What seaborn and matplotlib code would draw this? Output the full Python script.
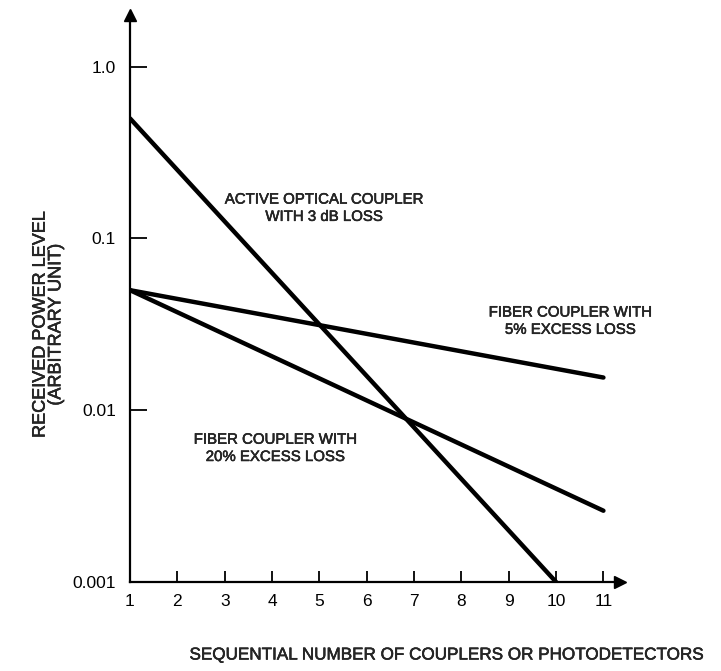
import numpy as np
import pandas as pd
import seaborn as sns
import matplotlib.pyplot as plt
import matplotlib.patheffects as pe

# values
active_x = [1, 10]
active_y = [0.5, 0.001]
fiber5_x = [1, 11]
fiber5_y = [0.05, 0.0155]
fiber20_x = [1, 11]
fiber20_y = [0.05, 0.0026]

x_ticks = [1, 2, 3, 4, 5, 6, 7, 8, 9, 10, 11]
y_ticks = [0.001, 0.01, 0.1, 1.0]
y_tick_labels = ["0.001", "0.01", "0.1", "1.0"]

sns.set_style("white")
plt.rcParams["font.family"] = ["Liberation Sans", "DejaVu Sans"]

# scanned print looks a bit heavier than regular weight
heavy = [pe.withStroke(linewidth=0.35, foreground="black")]

df = pd.concat([
    pd.DataFrame({"n": active_x, "p": active_y, "s": "active"}),
    pd.DataFrame({"n": fiber5_x, "p": fiber5_y, "s": "fiber5"}),
    pd.DataFrame({"n": fiber20_x, "p": fiber20_y, "s": "fiber20"}),
])

fig = plt.figure(figsize=(7.21, 6.71), dpi=100)
ax = fig.add_axes([130 / 721, (671 - 582) / 671, (620 - 130) / 721, (582 - 15) / 671])

sns.lineplot(data=df, x="n", y="p", units="s", estimator=None, color="black",
             linewidth=3.2, ax=ax, legend=False)

ax.set_yscale("log")
ax.set_xlim(1, 11.35)
ax.set_ylim(0.001, 2.0)
ax.set_xticks(x_ticks)
ax.set_xticklabels([str(v) for v in x_ticks])
ax.set_yticks(y_ticks)
ax.set_yticklabels(y_tick_labels)
ax.minorticks_off()
ax.tick_params(axis="both", direction="in", width=1.3, labelsize=12.5,
               color="black", labelcolor="black", bottom=True, left=True)
ax.tick_params(axis="x", length=8, pad=9)
ax.tick_params(axis="y", length=12, pad=10)

for side in ["top", "right"]:
    ax.spines[side].set_visible(False)
for side in ["left", "bottom"]:
    ax.spines[side].set_linewidth(1.6)
    ax.spines[side].set_color("black")

# axis arrows
ax.plot(1, 0, ">", color="black", markersize=9, transform=ax.transAxes, clip_on=False)
ax.plot(0, 1, "^", color="black", markersize=9, transform=ax.transAxes, clip_on=False)

ax.set_xlabel("")
ax.set_ylabel("")
fig.text(447 / 721, 1 - 655 / 671, "SEQUENTIAL NUMBER OF COUPLERS OR PHOTODETECTORS",
         ha="center", va="center", fontsize=12.3, path_effects=heavy)
fig.text(48 / 721, 1 - 325 / 671, "RECEIVED POWER LEVEL\n(ARBITRARY UNIT)",
         ha="center", va="center", rotation=90, fontsize=13, linespacing=0.9,
         path_effects=heavy)

ax.text(5.1, 0.15, "ACTIVE OPTICAL COUPLER\nWITH 3 dB LOSS", ha="center", va="center",
        fontsize=10.8, linespacing=1.3, path_effects=heavy)
ax.text(10.3, 0.033, "FIBER COUPLER WITH\n5% EXCESS LOSS", ha="center", va="center",
        fontsize=10.8, linespacing=1.3, path_effects=heavy)
ax.text(4.07, 0.006, "FIBER COUPLER WITH\n20% EXCESS LOSS", ha="center", va="center",
        fontsize=10.8, linespacing=1.3, path_effects=heavy)

fig.savefig("out.png", dpi=100, facecolor="white")
